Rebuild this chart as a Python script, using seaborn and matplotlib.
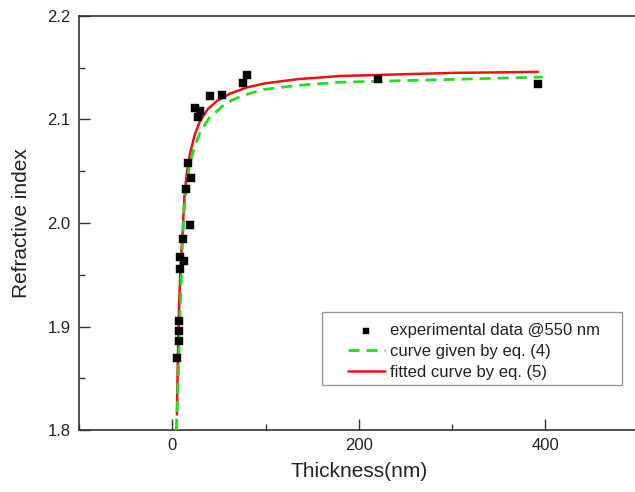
import numpy as np
import pandas as pd
import matplotlib
matplotlib.use("Agg")
import matplotlib.pyplot as plt
import seaborn as sns
from matplotlib.ticker import MultipleLocator
from matplotlib.patches import Rectangle

# experimental data @550 nm
exp_thickness = [5.0, 6.8, 6.8, 7.5, 8.6, 12.1, 7.8, 11.4, 19.3, 15.0, 20.4, 16.4,
                 27.5, 30.0, 24.6, 40.7, 53.2, 75.7, 80.0, 221.0, 392.4]
exp_index = [1.870, 1.905, 1.896, 1.886, 1.967, 1.963, 1.956, 1.985, 1.998, 2.033, 2.043, 2.058,
             2.102, 2.108, 2.111, 2.123, 2.124, 2.135, 2.143, 2.139, 2.134]

# curve given by eq. (4)
eq4_thickness = [4.3, 6.8, 8.0, 9.6, 11.0, 13.0, 15.5, 19.0, 23.0, 30.0, 40.0, 58.0,
                 75.0, 98.0, 135.0, 180.0, 221.0, 312.0, 397.0]
eq4_index = [1.800, 1.858, 1.900, 1.945, 1.980, 2.015, 2.040, 2.058, 2.071, 2.088, 2.102, 2.116,
             2.123, 2.129, 2.133, 2.136, 2.137, 2.139, 2.141]

# fitted curve by eq. (5)
eq5_thickness = [5.0, 6.0, 7.5, 9.0, 11.0, 13.0, 15.5, 19.0, 24.0, 30.0, 38.0, 48.0,
                 62.0, 80.0, 100.0, 135.0, 180.0, 220.0, 300.0, 392.0]
eq5_index = [1.815, 1.870, 1.925, 1.960, 1.990, 2.025, 2.048, 2.067, 2.085, 2.099, 2.110, 2.118,
             2.125, 2.131, 2.135, 2.139, 2.142, 2.143, 2.145, 2.146]

x_ticks = [0, 200, 400]
y_ticks = [1.8, 1.9, 2.0, 2.1, 2.2]

sns.set_style("white")
plt.rcParams['font.family'] = ['Liberation Sans', 'DejaVu Sans']

fig = plt.figure(figsize=(6.35, 4.92), dpi=100)
ax = fig.add_axes([0.1244, 0.126, 0.8814, 0.8415])

df_exp = pd.DataFrame({"t": exp_thickness, "n": exp_index})
df4 = pd.DataFrame({"t": eq4_thickness, "n": eq4_index})
df5 = pd.DataFrame({"t": eq5_thickness, "n": eq5_index})

sns.lineplot(data=df4, x="t", y="n", ax=ax, sort=False, estimator=None, color="#22dd22",
             linewidth=2.0, dashes=False, label="curve given by eq. (4)", zorder=3)
ax.lines[-1].set_dashes([4, 2.5])
sns.lineplot(data=df5, x="t", y="n", ax=ax, sort=False, estimator=None, color="#ee1111",
             linewidth=1.8, label="fitted curve by eq. (5)", zorder=2)
sns.scatterplot(data=df_exp, x="t", y="n", ax=ax, marker="s", s=32, color="black",
                edgecolor="black", linewidth=0.3, label="experimental data @550 nm", zorder=4)

ax.set_xlim(-100, 500)
ax.set_ylim(1.8, 2.2)
ax.set_xticks(x_ticks)
ax.set_yticks(y_ticks)
ax.set_yticklabels([f"{v:.1f}" for v in y_ticks])
ax.xaxis.set_minor_locator(MultipleLocator(100))
ax.yaxis.set_minor_locator(MultipleLocator(0.05))
ax.tick_params(which="major", direction="in", length=8, width=1.0, colors="#333333",
               labelsize=12, labelcolor="#222222", pad=6, top=False, right=False)
ax.tick_params(which="minor", direction="in", length=4, width=1.0, colors="#333333",
               top=False, right=False)
ax.tick_params(axis="x", which="both", bottom=True)
ax.tick_params(axis="y", which="both", left=True)

for side in ["left", "bottom", "top", "right"]:
    ax.spines[side].set_color("#333333")
    ax.spines[side].set_linewidth(1.2)

ax.set_xlabel("Thickness(nm)", fontsize=15, color="#222222", labelpad=6)
ax.set_ylabel("Refractive index", fontsize=15, color="#222222", labelpad=12)

handles, labels = ax.get_legend_handles_labels()
order = [labels.index("experimental data @550 nm"), labels.index("curve given by eq. (4)"),
         labels.index("fitted curve by eq. (5)")]
leg = ax.legend([handles[i] for i in order], [labels[i] for i in order],
                loc="upper left", bbox_to_anchor=(0.4806, 0.2585), fontsize=12,
                frameon=False, labelspacing=0.37, handlelength=2.2, handletextpad=0.3,
                borderpad=0, borderaxespad=0, markerscale=0.8)
for t in leg.get_texts():
    t.set_color("#222222")

frame = Rectangle((0.4342, 0.1087), 0.9702 - 0.4342, 0.2850 - 0.1087,
                  transform=ax.transAxes, facecolor="white", edgecolor="#999999",
                  linewidth=1.0, zorder=4.5)
ax.add_patch(frame)
leg.set_zorder(5)

fig.savefig("out.png", dpi=100)
